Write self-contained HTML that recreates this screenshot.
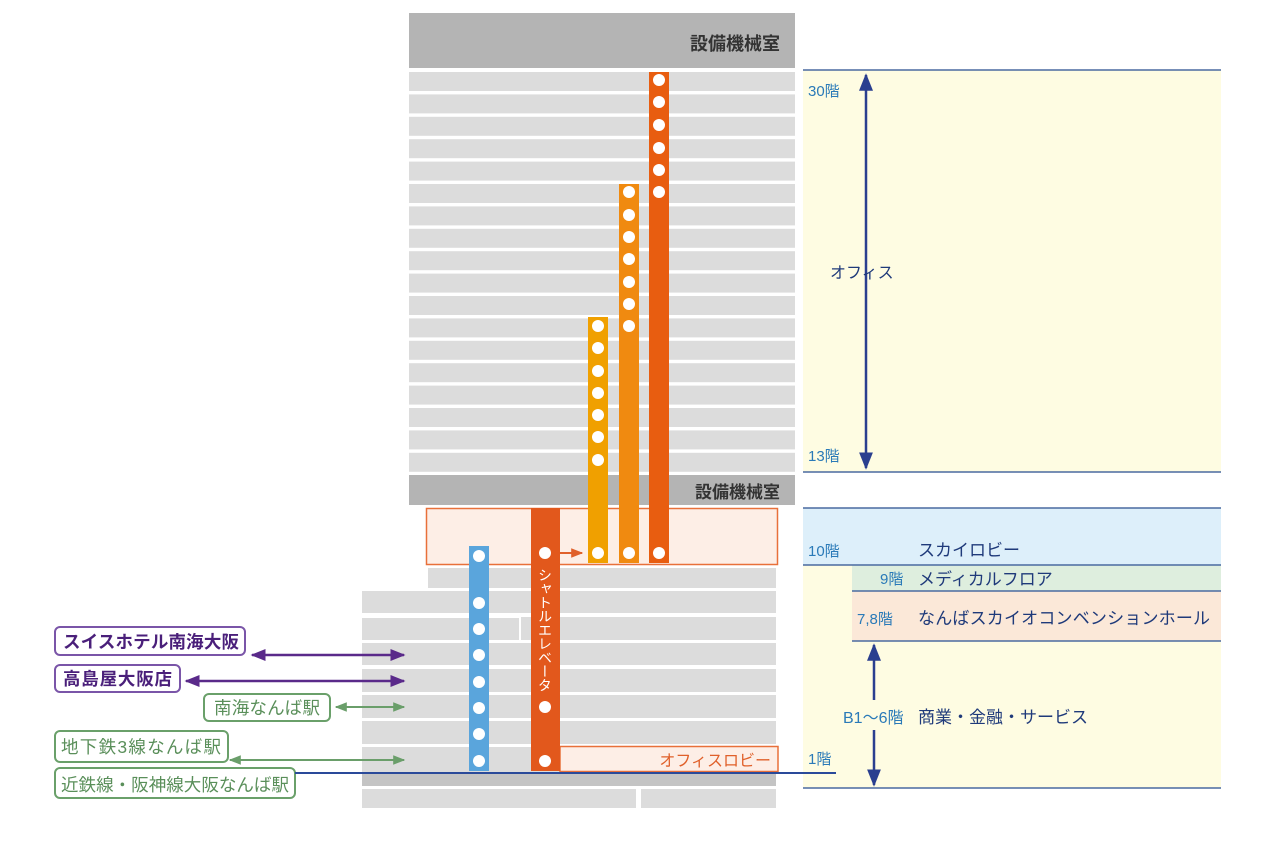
<!DOCTYPE html>
<html><head><meta charset="utf-8"><style>
html,body{margin:0;padding:0;background:#fff;}
svg{display:block;font-family:"Liberation Sans","Noto Sans CJK JP",sans-serif;}
</style></head><body>
<svg width="1276" height="843" viewBox="0 0 1276 843" xmlns="http://www.w3.org/2000/svg">
<defs>
<marker id="ab" viewBox="0 0 10 10" refX="9" refY="5" markerWidth="7" markerHeight="7" orient="auto-start-reverse"><path d="M0,1 L10,5 L0,9 z" fill="#2a3f8f"/></marker>
<marker id="ap" viewBox="0 0 10 10" refX="9" refY="5" markerWidth="6" markerHeight="6" orient="auto-start-reverse"><path d="M0,1 L10,5 L0,9 z" fill="#5a2a8a"/></marker>
<marker id="ag" viewBox="0 0 10 10" refX="9" refY="5" markerWidth="6" markerHeight="6" orient="auto-start-reverse"><path d="M0,1 L10,5 L0,9 z" fill="#6a9e6a"/></marker>
<marker id="ao" viewBox="0 0 10 10" refX="9" refY="5" markerWidth="6" markerHeight="6" orient="auto"><path d="M0,1 L10,5 L0,9 z" fill="#e0602a"/></marker>
</defs>

<!-- right panel -->
<rect x="803" y="70" width="418" height="402" fill="#fefce2"/>
<rect x="803" y="508" width="418" height="57" fill="#ddeffa"/>
<rect x="803" y="565" width="418" height="223" fill="#fefce2"/>
<rect x="852" y="565" width="369" height="26" fill="#deeede"/>
<rect x="852" y="591" width="369" height="50" fill="#fbe8d8"/>
<g stroke="#4a6aa0" stroke-width="1.5">
<line x1="803" y1="70" x2="1221" y2="70"/>
<line x1="803" y1="472" x2="1221" y2="472"/>
<line x1="803" y1="508" x2="1221" y2="508"/>
<line x1="803" y1="565" x2="1221" y2="565"/>
<line x1="852" y1="591" x2="1221" y2="591"/>
<line x1="852" y1="641" x2="1221" y2="641"/>
<line x1="803" y1="788" x2="1221" y2="788"/>
</g>
<g stroke="#2a3f8f" stroke-width="2.5" fill="none">
<line x1="866" y1="468" x2="866" y2="75" marker-end="url(#ab)" marker-start="url(#ab)"/>
<line x1="874" y1="700" x2="874" y2="645" marker-end="url(#ab)"/>
<line x1="874" y1="730" x2="874" y2="785" marker-end="url(#ab)"/>
</g>
<g font-size="15" fill="#2a7ab8">
<text x="808" y="96">30階</text>
<text x="808" y="461">13階</text>
<text x="808" y="556">10階</text>
<text x="880" y="584">9階</text>
<text x="857" y="624">7,8階</text>
<text x="843" y="723" font-size="16">B1〜6階</text>
<text x="808" y="764">1階</text>
</g>
<g font-size="17" fill="#1f3a7a">
<text x="830" y="278" font-size="16">オフィス</text>
<text x="918" y="556">スカイロビー</text>
<text x="918" y="585">メディカルフロア</text>
<text x="918" y="624" textLength="292">なんばスカイオコンベンションホール</text>
<text x="918" y="723">商業・金融・サービス</text>
</g>

<!-- upper building -->
<rect x="409" y="13" width="386" height="55" fill="#b4b4b4"/>
<text x="780" y="50" font-size="18" fill="#333" text-anchor="end" font-weight="bold">設備機械室</text>
<g fill="#dcdcdc">
<rect x="409" y="72" width="386" height="19"/>
<rect x="409" y="94.4" width="386" height="19"/>
<rect x="409" y="116.8" width="386" height="19"/>
<rect x="409" y="139.2" width="386" height="19"/>
<rect x="409" y="161.6" width="386" height="19"/>
<rect x="409" y="184" width="386" height="19"/>
<rect x="409" y="206.4" width="386" height="19"/>
<rect x="409" y="228.8" width="386" height="19"/>
<rect x="409" y="251.2" width="386" height="19"/>
<rect x="409" y="273.6" width="386" height="19"/>
<rect x="409" y="296" width="386" height="19"/>
<rect x="409" y="318.4" width="386" height="19"/>
<rect x="409" y="340.8" width="386" height="19"/>
<rect x="409" y="363.2" width="386" height="19"/>
<rect x="409" y="385.6" width="386" height="19"/>
<rect x="409" y="408" width="386" height="19"/>
<rect x="409" y="430.4" width="386" height="19"/>
<rect x="409" y="452.8" width="386" height="19"/>
</g>
<rect x="409" y="475" width="386" height="30" fill="#b4b4b4"/>
<text x="780" y="498" font-size="17" fill="#333" text-anchor="end" font-weight="bold">設備機械室</text>

<!-- sky lobby -->
<rect x="426.5" y="508.5" width="351" height="56" fill="#fdeee6" stroke="#e8703a" stroke-width="1.5"/>

<!-- lower building -->
<g fill="#dcdcdc">
<rect x="428" y="568" width="348" height="20"/>
<rect x="362" y="591" width="414" height="22"/>
<rect x="362" y="617" width="414" height="23"/>
<rect x="362" y="643" width="414" height="22"/>
<rect x="362" y="669" width="414" height="23"/>
<rect x="362" y="695" width="414" height="23"/>
<rect x="362" y="721" width="414" height="23"/>
<rect x="362" y="747" width="414" height="25"/>
<rect x="362" y="789" width="274" height="19"/>
<rect x="641" y="789" width="135" height="19"/>
</g>
<rect x="362" y="773" width="414" height="13" fill="#c4c4c4"/>
<polyline points="362,617 520,617 520,640" fill="none" stroke="#fff" stroke-width="2"/>
<rect x="560" y="746.5" width="218" height="25" fill="#fdeee6" stroke="#e8703a" stroke-width="1.5"/>
<text x="771" y="766" font-size="16" fill="#e0602a" text-anchor="end">オフィスロビー</text>

<!-- elevators -->
<rect x="469" y="546" width="20" height="225" fill="#5aa5dc"/>
<rect x="531" y="508" width="29" height="263" fill="#e2581c"/>
<rect x="588" y="317" width="20" height="246" fill="#f0a000"/>
<rect x="619" y="184" width="20" height="379" fill="#f08a10"/>
<rect x="649" y="72" width="20" height="491" fill="#e85d10"/>
<g fill="#fff">
<circle cx="479" cy="556" r="6"/><circle cx="479" cy="603" r="6"/><circle cx="479" cy="629" r="6"/><circle cx="479" cy="655" r="6"/><circle cx="479" cy="682" r="6"/><circle cx="479" cy="708" r="6"/><circle cx="479" cy="734" r="6"/><circle cx="479" cy="761" r="6"/>
<circle cx="545" cy="553" r="6"/><circle cx="545" cy="707" r="6"/><circle cx="545" cy="761" r="6"/>
<circle cx="598" cy="326" r="6"/><circle cx="598" cy="348" r="6"/><circle cx="598" cy="371" r="6"/><circle cx="598" cy="393" r="6"/><circle cx="598" cy="415" r="6"/><circle cx="598" cy="437" r="6"/><circle cx="598" cy="460" r="6"/><circle cx="598" cy="553" r="6"/>
<circle cx="629" cy="192" r="6"/><circle cx="629" cy="215" r="6"/><circle cx="629" cy="237" r="6"/><circle cx="629" cy="259" r="6"/><circle cx="629" cy="282" r="6"/><circle cx="629" cy="304" r="6"/><circle cx="629" cy="326" r="6"/><circle cx="629" cy="553" r="6"/>
<circle cx="659" cy="80" r="6"/><circle cx="659" cy="102" r="6"/><circle cx="659" cy="125" r="6"/><circle cx="659" cy="148" r="6"/><circle cx="659" cy="170" r="6"/><circle cx="659" cy="192" r="6"/><circle cx="659" cy="553" r="6"/>
</g>
<line x1="560" y1="553" x2="582" y2="553" stroke="#e0602a" stroke-width="2" marker-end="url(#ao)"/>
<text x="545" y="568" font-size="14" fill="#fff" style="writing-mode:vertical-rl" textLength="124" lengthAdjust="spacing">シャトルエレベータ</text>

<!-- left labels -->
<g fill="#fff" stroke-width="2">
<rect x="55" y="627" width="190" height="28" rx="5" stroke="#7a55a8"/>
<rect x="55" y="665" width="125" height="27" rx="5" stroke="#7a55a8"/>
<rect x="204" y="694" width="126" height="27" rx="5" stroke="#6aa06a"/>
<rect x="55" y="731" width="173" height="31" rx="5" stroke="#6aa06a"/>
<rect x="55" y="768" width="240" height="30" rx="5" stroke="#6aa06a"/>
</g>
<g font-size="17.5">
<text x="63" y="648" fill="#4a1f7a" font-weight="bold" textLength="176">スイスホテル南海大阪</text>
<text x="63" y="685" fill="#4a1f7a" font-weight="bold" textLength="109">高島屋大阪店</text>
<text x="214" y="714" fill="#5a8f5a" textLength="106">南海なんば駅</text>
<text x="61" y="753" fill="#5a8f5a" textLength="160">地下鉄3線なんば駅</text>
<text x="61" y="791" fill="#5a8f5a" textLength="228">近鉄線・阪神線大阪なんば駅</text>
</g>
<g stroke-width="2.5">
<line x1="252" y1="655" x2="404" y2="655" stroke="#5a2a8a" marker-start="url(#ap)" marker-end="url(#ap)"/>
<line x1="186" y1="681" x2="404" y2="681" stroke="#5a2a8a" marker-start="url(#ap)" marker-end="url(#ap)"/>
<line x1="336" y1="707" x2="404" y2="707" stroke="#6a9e6a" stroke-width="2" marker-start="url(#ag)" marker-end="url(#ag)"/>
<line x1="230" y1="760" x2="404" y2="760" stroke="#6a9e6a" stroke-width="2" marker-start="url(#ag)" marker-end="url(#ag)"/>
<line x1="295" y1="773" x2="836" y2="773" stroke="#2a4a9a" stroke-width="2"/>
</g>
</svg>
</body></html>
